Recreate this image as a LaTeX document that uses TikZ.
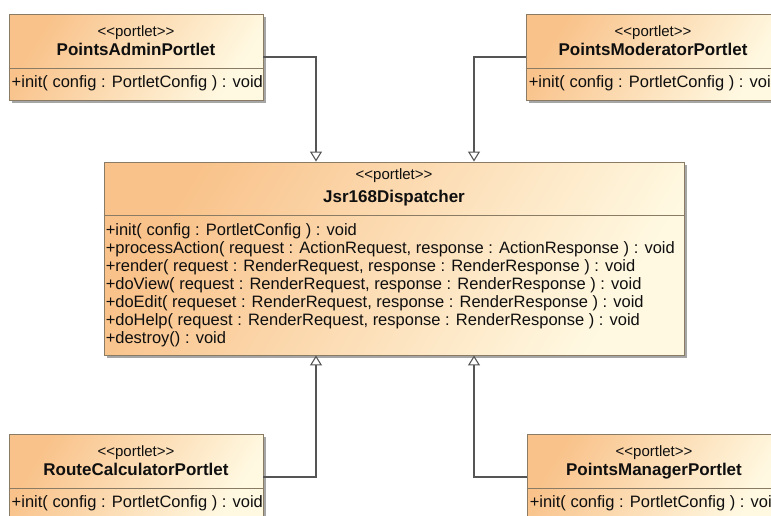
\documentclass[tikz,border=0pt]{standalone}
\usepackage{fontspec}
\setmainfont{Liberation Sans}
\usetikzlibrary{arrows.meta,shadows}

\definecolor{umlorange}{RGB}{249,194,138}
\definecolor{umlpale}{RGB}{255,249,226}
\definecolor{umlborder}{RGB}{138,124,100}
\definecolor{umlshadow}{RGB}{150,150,150}
\definecolor{umlline}{RGB}{85,85,85}
\definecolor{umltext}{RGB}{15,15,15}

% stereotype label, kerns keep the angle brackets from turning into guillemets
\newcommand{\portletst}{<\kern0pt<portlet>\kern0pt>}

\tikzset{
  classbox/.style={draw=umlborder, line width=0.9pt, inner sep=0pt,
    top color=umlorange, bottom color=umlpale, shading angle=58,
    drop shadow={shadow xshift=3pt, shadow yshift=-3pt, fill=umlshadow, opacity=0.85}},
  smallbox/.style={classbox, minimum width=254pt, minimum height=86pt},
  divider/.style={draw=umlborder, line width=0.9pt},
  stereo/.style={inner sep=0pt, anchor=base, text=umltext, font=\fontsize{15}{17}\selectfont},
  classname/.style={inner sep=0pt, anchor=base, text=umltext, font=\fontsize{17}{19}\selectfont\bfseries},
  op/.style={inner sep=0pt, anchor=base west, text=umltext, font=\fontsize{16.5}{18}\selectfont},
  generalize/.style={draw=umlline, line width=1.2pt,
    -{Triangle[length=10pt, width=12pt, fill=white, line width=1.1pt]}},
}

\begin{document}
\begin{tikzpicture}[x=1pt, y=-1pt]
  \useasboundingbox (0,0) rectangle (771,515);

  % ---------- class boxes ----------
  \node[smallbox] (adminBox) at (136,57) {};
  \node[smallbox] (moderatorBox) at (653,57) {};
  \node[classbox, minimum width=580pt, minimum height=193pt] (jsrBox) at (394,258.5) {};
  \node[smallbox] (routeBox) at (136,477) {};
  \node[smallbox] (managerBox) at (654,477) {};

  % compartment separators
  \foreach \b in {adminBox, moderatorBox, routeBox, managerBox}
    \draw[divider] ([yshift=-55pt]\b.north west) -- ([yshift=-55pt]\b.north east);
  \draw[divider] ([yshift=-54pt]jsrBox.north west) -- ([yshift=-54pt]jsrBox.north east);

  % ---------- small portlet classes ----------
  \foreach \b/\n in {adminBox/PointsAdminPortlet, moderatorBox/PointsModeratorPortlet,
                     routeBox/RouteCalculatorPortlet, managerBox/PointsManagerPortlet} {
    \node[stereo] (\b-st) at ([yshift=-23pt]\b.north) {\portletst};
    \node[classname] (\b-name) at ([yshift=-42pt]\b.north) {\n};
    \node[op] (\b-op) at ([xshift=3pt, yshift=-73.5pt]\b.north west)
      {+init( config : PortletConfig ) : void};
  }

  % ---------- dispatcher ----------
  \node[stereo] (jsr-st) at ([yshift=-18pt]jsrBox.north) {\portletst};
  \node[classname] (jsr-name) at ([yshift=-41pt]jsrBox.north) {Jsr168Dispatcher};
  \foreach \t [count=\i] in {
      {+init( config : PortletConfig ) : void},
      {+processAction( request : ActionRequest, response : ActionResponse ) : void},
      {+render( request : RenderRequest, response : RenderResponse ) : void},
      {+doView( request : RenderRequest, response : RenderResponse ) : void},
      {+doEdit( requeset : RenderRequest, response : RenderResponse ) : void},
      {+doHelp( request : RenderRequest, response : RenderResponse ) : void},
      {+destroy() : void}}
    \node[op] (jsr-op\i) at ([xshift=2pt, yshift={-73.5pt-(\i-1)*18pt}]jsrBox.north west) {\t};

  % ---------- generalizations ----------
  \draw[generalize] (adminBox.east) -| ([xshift=-78pt]jsrBox.north);
  \draw[generalize] (moderatorBox.west) -| ([xshift=80pt]jsrBox.north);
  \draw[generalize] (routeBox.east) -| ([xshift=-78pt]jsrBox.south);
  \draw[generalize] (managerBox.west) -| ([xshift=80pt]jsrBox.south);
\end{tikzpicture}
\end{document}
